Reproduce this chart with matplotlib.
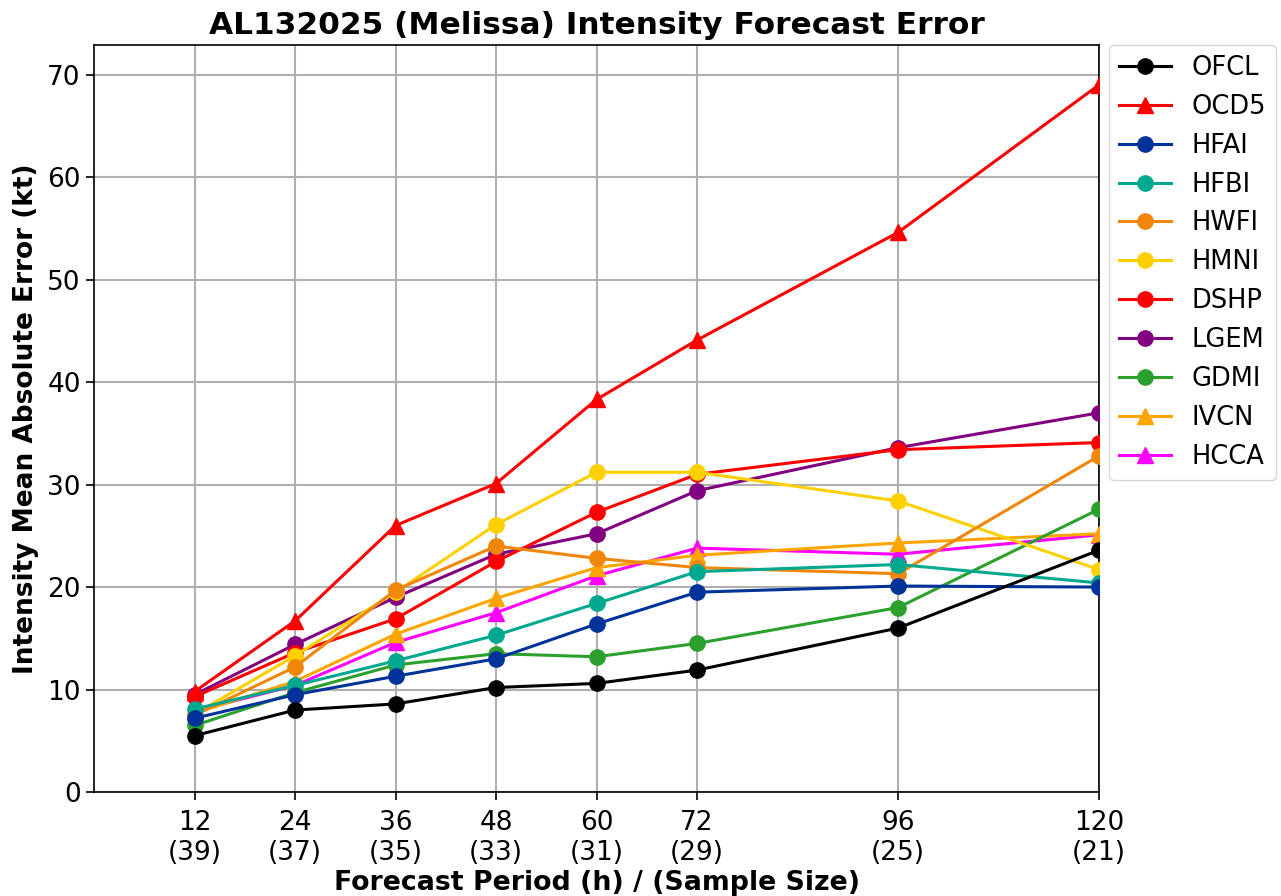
import matplotlib
matplotlib.use('Agg')
import matplotlib.pyplot as plt

hours = [12, 24, 36, 48, 60, 72, 96, 120]
sample_sizes = [39, 37, 35, 33, 31, 29, 25, 21]

ofcl = [5.5, 8.0, 8.6, 10.2, 10.6, 11.9, 16.0, 23.6]
ocd5 = [9.8, 16.7, 26.0, 30.1, 38.3, 44.1, 54.6, 69.0]
hfai = [7.2, 9.5, 11.3, 13.0, 16.4, 19.5, 20.1, 20.0]
hfbi = [8.1, 10.4, 12.8, 15.3, 18.4, 21.5, 22.2, 20.4]
hwfi = [7.5, 12.2, 19.7, 24.0, 22.8, 21.9, 21.3, 32.8]
hmni = [7.6, 13.3, 19.5, 26.1, 31.2, 31.2, 28.4, 21.7]
dshp = [9.3, 13.6, 16.9, 22.5, 27.3, 31.0, 33.4, 34.1]
lgem = [9.5, 14.4, 19.0, 23.2, 25.2, 29.4, 33.6, 37.0]
gdmi = [6.5, 9.7, 12.4, 13.5, 13.2, 14.5, 18.0, 27.6]
ivcn = [7.7, 10.8, 15.4, 18.9, 21.9, 23.1, 24.3, 25.2]
hcca = [7.9, 10.4, 14.6, 17.5, 21.1, 23.8, 23.2, 25.1]

models = ['OFCL', 'OCD5', 'HFAI', 'HFBI', 'HWFI', 'HMNI', 'DSHP', 'LGEM', 'GDMI', 'IVCN', 'HCCA']
series = [ofcl, ocd5, hfai, hfbi, hwfi, hmni, dshp, lgem, gdmi, ivcn, hcca]
colors = ['black', '#ff0000', '#003399', '#00a88f', '#f0860a', '#ffd000', '#ff0000',
          '#800080', '#2ca02c', '#ffa500', '#ff00ff']
markers = ['o', '^', 'o', 'o', 'o', 'o', 'o', 'o', 'o', '^', '^']

fig = plt.figure(figsize=(12.81, 8.96), dpi=100)
ax = fig.add_axes([0.0734, 0.116, 0.7846, 0.834])

# later models drawn underneath earlier ones
for i, (name, vals) in enumerate(zip(models, series)):
    ax.plot(hours, vals, color=colors[i], marker=markers[i], markersize=11,
            linewidth=2.2, label=name, zorder=20 - i)

ax.set_xlim(0, 120)
ax.set_ylim(0, 72.9)
ax.set_xticks(hours)
ax.set_xticklabels([f'{h}\n({n})' for h, n in zip(hours, sample_sizes)])
ax.tick_params(labelsize=19, width=1.2, length=6)
ax.tick_params(axis='x', pad=7)
ax.grid(True, color='#b0b0b0', linewidth=1.5)
for s in ax.spines.values():
    s.set_linewidth(1.2)

ax.set_xlabel('Forecast Period (h) / (Sample Size)', fontsize=19.3, fontweight='bold', labelpad=3)
ax.set_ylabel('Intensity Mean Absolute Error (kt)', fontsize=19, fontweight='bold', labelpad=6)
ax.set_title('AL132025 (Melissa) Intensity Forecast Error', fontsize=22.5, fontweight='bold', pad=8)
ax.legend(loc='upper left', bbox_to_anchor=(1.01, 1.0), borderaxespad=0, fontsize=18.5)

fig.savefig('out.png', dpi=100)
